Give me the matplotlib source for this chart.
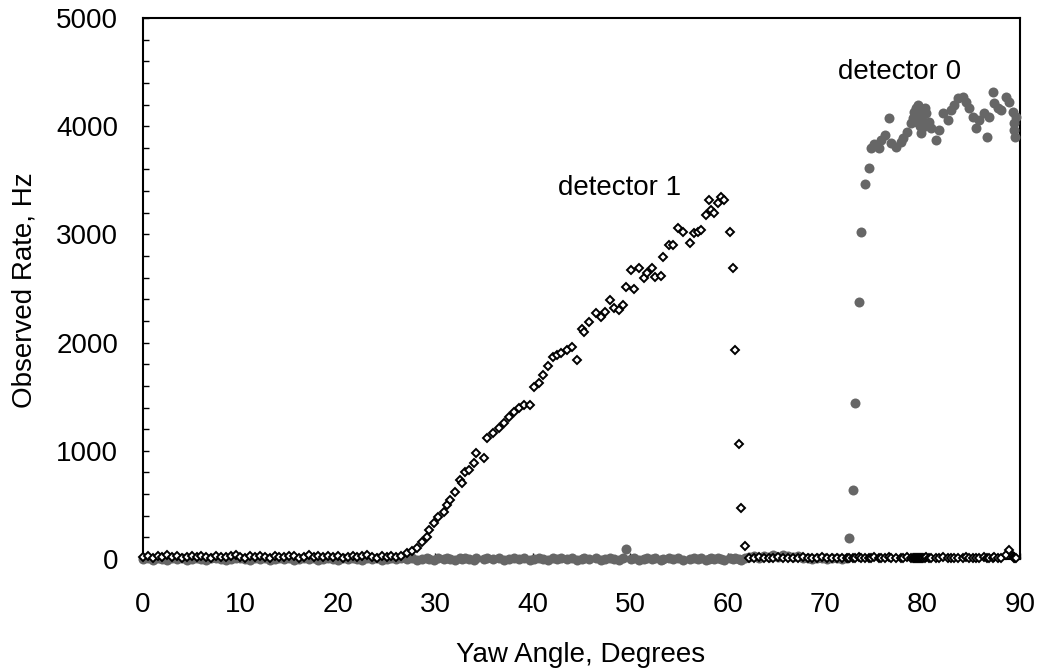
import matplotlib
matplotlib.use("Agg")
import matplotlib.pyplot as plt
from matplotlib.ticker import MultipleLocator

plt.rcParams['font.family'] = ['Liberation Sans', 'DejaVu Sans']

# Shared yaw-angle scan (degrees); both detectors were read at the same angles
angle_a = [0.0, 0.5, 1.0, 1.5, 2.0, 2.5, 3.0, 3.5, 4.0, 4.5,
           5.0, 5.5, 6.0, 6.5, 7.0, 7.5, 8.0, 8.5, 9.0, 9.5,
           10.0, 10.5, 11.0, 11.5, 12.0, 12.5, 13.0, 13.5, 14.0, 14.5,
           15.0, 15.5, 16.0, 16.5, 17.0, 17.5, 18.0, 18.5, 19.0, 19.5,
           20.0, 20.5, 21.0, 21.5, 22.0, 22.5, 23.0, 23.5, 24.0, 24.5,
           25.0, 25.5, 26.0, 26.5]
angle_b = [27.1, 27.6, 28.1, 28.6, 29.1, 29.4, 29.9, 30.3, 30.9, 31.2,
           31.5, 32.0, 32.5, 32.7, 33.0, 33.5, 34.0, 34.2, 35.0, 35.3,
           35.9, 36.5, 37.0, 37.6, 38.1, 38.6, 39.1, 39.7, 40.1, 40.6,
           41.1, 41.6, 42.1, 42.5, 42.9, 43.5, 44.0, 44.5, 45.0, 45.3,
           45.8, 46.5, 47.0, 47.4, 47.9, 48.3, 48.8, 49.3, 49.6, 50.1,
           50.4, 50.9, 51.4, 51.7, 52.2, 52.5, 53.2, 53.4, 54.0, 54.4,
           54.9, 55.4, 56.1, 56.5, 57.0, 57.3, 57.8, 58.1, 58.3, 58.6,
           59.0, 59.3, 59.6, 60.2, 60.5, 60.8, 61.2, 61.4, 61.8]
angle_c = [62.2, 62.7, 63.2, 63.7, 64.2, 64.7, 65.2, 65.7, 66.2, 66.7,
           67.2, 67.7, 68.2, 68.7, 69.2, 69.7, 70.2, 70.7, 71.2, 71.7, 72.2]
angle_d = [72.5, 72.9, 73.1, 73.5, 73.7, 74.1, 74.5, 74.7, 75.0, 75.5,
           75.7, 76.1, 76.6, 76.8, 77.3, 77.8, 78.0, 78.4, 78.8, 79.0,
           79.1, 79.2, 79.3, 79.4, 79.5, 79.6, 79.7, 79.8, 79.9, 80.0,
           80.2, 80.4, 80.7, 80.9, 81.4, 81.7, 82.1, 82.6, 82.9, 83.2,
           83.6, 84.2, 84.5, 84.8, 85.2, 85.5, 85.8, 86.3, 86.6, 86.8,
           87.2, 87.3, 87.7, 88.0, 88.6, 88.9, 89.3, 89.35, 89.4, 89.45,
           89.6]

# detector 1 observed rate (Hz)
det1_a = [15, 25, 10, 30, 20, 35, 15, 25, 10, 20,
          30, 15, 25, 20, 10, 30, 20, 15, 25, 35,
          20, 10, 25, 15, 30, 20, 10, 25, 15, 20,
          30, 25, 10, 20, 35, 15, 25, 20, 30, 15,
          25, 10, 20, 30, 15, 25, 35, 20, 10, 25,
          20, 30, 15, 25]
det1_b = [55, 70, 100, 160, 200, 270, 330, 390, 435, 500,
          545, 620, 730, 700, 805, 820, 890, 980, 935, 1120,
          1160, 1210, 1260, 1310, 1360, 1400, 1420, 1420, 1590, 1630,
          1700, 1780, 1870, 1890, 1900, 1930, 1960, 1840, 2130, 2100,
          2190, 2270, 2240, 2280, 2390, 2320, 2300, 2350, 2510, 2670,
          2500, 2690, 2600, 2640, 2690, 2610, 2620, 2790, 2900, 2900,
          3060, 3020, 2920, 3010, 3020, 3040, 3180, 3320, 3230, 3200,
          3290, 3350, 3320, 3020, 2690, 1930, 1060, 470, 120]
det1_c = [10, 5, 15, 10, 5, 10, 15, 5, 10, 10,
          5, 15, 10, 5, 10, 15, 5, 10, 10, 5, 10]
det1_d = [10, 5, 10, 15, 5, 10, 5, 10, 15, 5,
          10, 5, 15, 10, 5, 10, 5, 15, 10, 5,
          10, 5, 10, 5, 10, 5, 10, 5, 10, 5,
          10, 15, 5, 10, 5, 10, 15, 5, 10, 5,
          10, 5, 15, 10, 5, 10, 5, 15, 10, 5,
          10, 15, 5, 10, 40, 80, 30, 15, 10, 5,
          10]

# detector 0 observed rate (Hz)
det0_a = [0, 5, -5, 10, 0, -5, 5, 0, 10, -5,
          0, 5, 0, -5, 10, 5, 0, -5, 0, 5,
          10, 0, -5, 5, 0, 5, -5, 0, 10, 0,
          5, -5, 0, 5, 0, 10, -5, 0, 5, 0,
          -5, 5, 0, 10, 0, -5, 5, 0, 5, -5,
          0, 10, 0, 5]
det0_b = [0, 5, -5, 0, 10, 0, -5, 5, 0, 5,
          0, -5, 10, 0, 5, 0, -5, 5, 0, 10,
          0, 5, -5, 0, 5, 0, 10, -5, 0, 5,
          0, -5, 5, 0, 10, 0, 5, -5, 0, 5,
          0, 10, -5, 0, 5, 0, -5, 5, 90, 0,
          5, -5, 0, 10, 0, 5, -5, 0, 5, 0,
          10, -5, 0, 5, 0, 5, -5, 0, 10, 0,
          5, 0, -5, 5, 0, 10, 0, -5, 5]
det0_c = [20, 30, 10, 25, 15, 35, 20, 40, 25, 15,
          30, 10, 5, 0, 10, 5, 0, 5, 10, 0, 5]
det0_d = [195, 640, 1440, 2375, 3020, 3470, 3610, 3800, 3835, 3800,
          3870, 3920, 4075, 3845, 3810, 3855, 3890, 3950, 4030, 4075,
          4130, 4100, 4165, 4040, 4195, 4120, 4000, 3940, 4060, 3990,
          4170, 4120, 4040, 3980, 3870, 3965, 4120, 4060, 4150, 4195,
          4260, 4270, 4225, 4165, 4085, 3985, 4055, 4120, 3900, 4085,
          4320, 4215, 4165, 4150, 4270, 4225, 4130, 3965, 4030, 3900,
          4085]

angles = angle_a + angle_b + angle_c + angle_d
det1 = det1_a + det1_b + det1_c + det1_d
det0 = det0_a + det0_b + det0_c + det0_d

x_ticks = [0, 10, 20, 30, 40, 50, 60, 70, 80, 90]
y_ticks = [0, 1000, 2000, 3000, 4000, 5000]

fig = plt.figure(figsize=(10.39, 6.70), dpi=100)
ax = fig.add_axes([143 / 1039, 1 - 559 / 670, (1020 - 143) / 1039, (559 - 18) / 670])

ax.plot(angles, det0, linestyle='none', marker='o', markersize=7.2,
        markerfacecolor='#666666', markeredgecolor='#666666', markeredgewidth=0,
        clip_on=False, zorder=3)
ax.plot(angles, det1, linestyle='none', marker='D', markersize=4.5,
        markerfacecolor='white', markeredgecolor='black', markeredgewidth=1.4,
        clip_on=False, zorder=4)

ax.set_xlim(0, 90)
ax.set_ylim(0, 5000)
ax.set_xticks(x_ticks)
ax.set_yticks(y_ticks)
ax.yaxis.set_minor_locator(MultipleLocator(200))
ax.tick_params(axis='both', which='both', direction='in', labelsize=20,
               top=False, right=False, width=1, color='black')
ax.tick_params(axis='x', which='major', length=4, pad=24)
ax.tick_params(axis='y', which='major', length=4, pad=18)
ax.tick_params(axis='y', which='minor', length=4)
for s in ax.spines.values():
    s.set_linewidth(1.5)
    s.set_color('black')

ax.text(48.95, 3430, 'detector 1', fontsize=20, ha='center', va='center')
ax.text(77.6, 4500, 'detector 0', fontsize=20, ha='center', va='center')

fig.text(581 / 1039, 1 - 655 / 670, 'Yaw Angle, Degrees', fontsize=20,
         ha='center', va='center')
fig.text(25 / 1039, 1 - 290 / 670, 'Observed Rate, Hz', fontsize=20,
         ha='center', va='center', rotation=90)

fig.savefig('out.png', dpi=100)
